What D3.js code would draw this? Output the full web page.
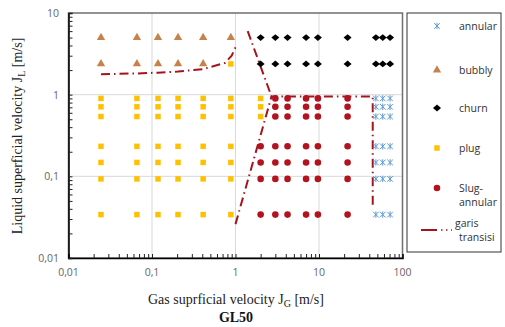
<!DOCTYPE html>
<html>
<head>
<meta charset="utf-8">
<script src="https://cdnjs.cloudflare.com/ajax/libs/d3/7.8.5/d3.min.js"></script>
<style>
  body { margin: 0; background: #fff; }
  svg { display: block; }
</style>
</head>
<body>
<div class="chart"></div>
<script>
// values, [Jg, Jl] in m/s
var bubbly = [
  [0.0245, 5], [0.066, 5], [0.118, 5], [0.205, 5], [0.41, 5], [0.88, 5],
  [0.0245, 2.38], [0.066, 2.38], [0.118, 2.38], [0.205, 2.38], [0.41, 2.38]
];
var plug = [
  [0.88, 2.38],
  [0.0245, 0.9], [0.066, 0.9], [0.118, 0.9], [0.205, 0.9], [0.41, 0.9], [0.88, 0.9], [2, 0.9],
  [0.0245, 0.71], [0.066, 0.71], [0.118, 0.71], [0.205, 0.71], [0.41, 0.71], [0.88, 0.71], [2, 0.71],
  [0.0245, 0.54], [0.066, 0.54], [0.118, 0.54], [0.205, 0.54], [0.41, 0.54], [0.88, 0.54], [2, 0.54],
  [0.0245, 0.233], [0.066, 0.233], [0.118, 0.233], [0.205, 0.233], [0.41, 0.233], [0.88, 0.233],
  [0.0245, 0.148], [0.066, 0.148], [0.118, 0.148], [0.205, 0.148], [0.41, 0.148], [0.88, 0.148],
  [0.0245, 0.093], [0.066, 0.093], [0.118, 0.093], [0.205, 0.093], [0.41, 0.093], [0.88, 0.093],
  [0.0245, 0.034], [0.066, 0.034], [0.118, 0.034], [0.205, 0.034], [0.41, 0.034], [0.88, 0.034]
];
var churn = [
  [2, 5], [3, 5], [4.2, 5], [7, 5], [9.7, 5], [22, 5], [48, 5], [58, 5], [71, 5],
  [2, 2.38], [3, 2.38], [4.2, 2.38], [7, 2.38], [9.7, 2.38], [22, 2.38], [48, 2.38], [58, 2.38], [71, 2.38]
];
var slugAnnular = [
  [3, 0.9], [4.2, 0.9], [7, 0.9], [9.7, 0.9], [22, 0.9],
  [3, 0.71], [4.2, 0.71], [7, 0.71], [9.7, 0.71], [22, 0.71],
  [3, 0.54], [4.2, 0.54], [7, 0.54], [9.7, 0.54], [22, 0.54],
  [2, 0.233], [3, 0.233], [4.2, 0.233], [7, 0.233], [9.7, 0.233], [22, 0.233],
  [2, 0.148], [3, 0.148], [4.2, 0.148], [7, 0.148], [9.7, 0.148], [22, 0.148],
  [2, 0.093], [3, 0.093], [4.2, 0.093], [7, 0.093], [9.7, 0.093], [22, 0.093],
  [2, 0.034], [3, 0.034], [4.2, 0.034], [7, 0.034], [9.7, 0.034], [22, 0.034]
];
var annular = [
  [48, 0.9], [58, 0.9], [71, 0.9],
  [48, 0.71], [58, 0.71], [71, 0.71],
  [48, 0.54], [58, 0.54], [71, 0.54],
  [48, 0.233], [58, 0.233], [71, 0.233],
  [48, 0.148], [58, 0.148], [71, 0.148],
  [48, 0.093], [58, 0.093], [71, 0.093],
  [48, 0.034], [58, 0.034], [71, 0.034]
];
// garis transisi (three separate pieces)
var transisiBubbly = [[0.0245, 1.78], [0.066, 1.82], [0.118, 1.86], [0.205, 1.92], [0.41, 2.05], [0.75, 2.45], [0.9, 3.0], [1.0, 3.8]];
var transisiChurn = [[1.4, 6.0], [2.7, 0.95]];
var transisiSlug = [[1.0, 0.026], [2.7, 0.95], [44, 0.95], [44, 0.04]];

var xTicks = [0.01, 0.1, 1, 10, 100];
var xTickLabels = ["0,01", "0,1", "1", "10", "100"];
var yTicks = [0.01, 0.1, 1, 10];
var yTickLabels = ["0,01", "0,1", "1", "10"];

var svg = d3.select(".chart").append("svg")
  .attr("width", 505)
  .attr("height", 327);

var xScale = d3.scaleLog().domain([0.01, 100]).range([68.5, 402.5]);
var yScale = d3.scaleLog().domain([0.01, 10]).range([258, 13]);

// grid lines on the decades
var grid = svg.append("g");
grid.selectAll("line.gx")
  .data(xTicks.slice(1, -1))
  .enter().append("line")
  .attr("x1", d => xScale(d)).attr("x2", d => xScale(d))
  .attr("y1", yScale(10)).attr("y2", yScale(0.01))
  .attr("stroke", "#d9d9d9").attr("stroke-width", 1);
grid.selectAll("line.gy")
  .data(yTicks.slice(1, -1))
  .enter().append("line")
  .attr("y1", d => yScale(d)).attr("y2", d => yScale(d))
  .attr("x1", xScale(0.01)).attr("x2", xScale(100))
  .attr("stroke", "#d9d9d9").attr("stroke-width", 1);

// plot frame
svg.append("rect")
  .attr("x", xScale(0.01)).attr("y", yScale(10))
  .attr("width", xScale(100) - xScale(0.01))
  .attr("height", yScale(0.01) - yScale(10))
  .attr("fill", "none").attr("stroke", "#6f6f6f").attr("stroke-width", 1.5);

// axes, ticks pointing inward
var xAxis = d3.axisTop(xScale).tickValues(d3.range(-2, 2).flatMap(e => d3.range(1, 10).map(m => m * Math.pow(10, e))).concat([100]))
  .tickSize(4).tickFormat("");
svg.append("g")
  .attr("transform", `translate(0, ${yScale(0.01)})`)
  .call(xAxis)
  .call(g => g.select(".domain").attr("stroke", "#000").attr("stroke-width", 1.5))
  .call(g => g.selectAll(".tick line").attr("stroke", "#222"));

var yAxis = d3.axisRight(yScale).tickValues(d3.range(-2, 1).flatMap(e => d3.range(1, 10).map(m => m * Math.pow(10, e))).concat([10]))
  .tickSize(4).tickFormat("");
svg.append("g")
  .attr("transform", `translate(${xScale(0.01)}, 0)`)
  .call(yAxis)
  .call(g => g.select(".domain").attr("stroke", "#000").attr("stroke-width", 1.5))
  .call(g => g.selectAll(".tick line").attr("stroke", "#222"));

// tick labels
svg.append("g").selectAll("text")
  .data(xTicks)
  .enter().append("text")
  .attr("x", d => xScale(d))
  .attr("y", 276)
  .attr("text-anchor", "middle")
  .attr("font-family", "Open Sans, sans-serif")
  .attr("font-size", 10.5)
  .attr("fill", "#666")
  .text((d, i) => xTickLabels[i]);

svg.append("g").selectAll("text")
  .data(yTicks)
  .enter().append("text")
  .attr("x", 59)
  .attr("y", d => yScale(d) + 4)
  .attr("text-anchor", "end")
  .attr("font-family", "Open Sans, sans-serif")
  .attr("font-size", 10.5)
  .attr("fill", "#666")
  .text((d, i) => yTickLabels[i]);

// transition lines
var line = d3.line()
  .x(d => xScale(d[0]))
  .y(d => yScale(d[1]));

svg.append("g").selectAll("path")
  .data([transisiBubbly, transisiChurn, transisiSlug])
  .enter().append("path")
  .attr("d", line)
  .attr("fill", "none")
  .attr("stroke", "#a3141f")
  .attr("stroke-width", 2)
  .attr("stroke-dasharray", "9,4,1.5,4");

// markers
var tri = d3.symbol().type(d3.symbolTriangle).size(30);
var square = d3.symbol().type(d3.symbolSquare).size(30);
var circle = d3.symbol().type(d3.symbolCircle).size(34);
var diamond = "M0,-3.4L4,0L0,3.4L-4,0Z";
var star = "M-2.8,-2.8L2.8,2.8M-2.8,2.8L2.8,-2.8M0,-3.2L0,3.2";

function drawPoints(data, path, fill, stroke) {
  svg.append("g").selectAll("path")
    .data(data)
    .enter().append("path")
    .attr("transform", d => `translate(${xScale(d[0])}, ${yScale(d[1])})`)
    .attr("d", path)
    .attr("fill", fill)
    .attr("stroke", stroke || "none")
    .attr("stroke-width", 1);
}

drawPoints(plug, square(), "#ffc000");
drawPoints(bubbly, tri(), "#c5834b");
drawPoints(churn, diamond, "#000");
drawPoints(slugAnnular, circle(), "#b3121f");
drawPoints(annular, star, "none", "#5b9bd5");

// legend
var legend = svg.append("g");
legend.append("rect")
  .attr("x", 407).attr("y", 13)
  .attr("width", 94).attr("height", 239)
  .attr("fill", "#fff").attr("stroke", "#333").attr("stroke-width", 1);

var legendItems = [
  { lines: ["annular"], y: 26, path: star, fill: "none", stroke: "#5b9bd5" },
  { lines: ["bubbly"], y: 70, path: tri(), fill: "#c5834b" },
  { lines: ["churn"], y: 108, path: diamond, fill: "#000" },
  { lines: ["plug"], y: 148, path: square(), fill: "#ffc000" },
  { lines: ["Slug-", "annular"], y: 188, path: circle(), fill: "#b3121f" }
];

legendItems.forEach(function(item) {
  legend.append("path")
    .attr("transform", `translate(437, ${item.y})`)
    .attr("d", item.path)
    .attr("fill", item.fill)
    .attr("stroke", item.stroke || "none");
  item.lines.forEach(function(s, i) {
    legend.append("text")
      .attr("x", 459).attr("y", item.y + 4 + i * 14)
      .attr("font-family", "Open Sans, sans-serif")
      .attr("font-size", 10.5)
      .attr("fill", "#333")
      .text(s);
  });
});

legend.append("line")
  .attr("x1", 421).attr("x2", 437).attr("y1", 230).attr("y2", 230)
  .attr("stroke", "#a3141f").attr("stroke-width", 2);
legend.append("line")
  .attr("x1", 441).attr("x2", 452).attr("y1", 230).attr("y2", 230)
  .attr("stroke", "#a3141f").attr("stroke-width", 1.5)
  .attr("stroke-dasharray", "1.5,3.5");
legend.append("text")
  .attr("x", 455).attr("y", 227)
  .attr("font-family", "Open Sans, sans-serif")
  .attr("font-size", 10.5)
  .attr("fill", "#333")
  .text("garis");
legend.append("text")
  .attr("x", 459).attr("y", 241)
  .attr("font-family", "Open Sans, sans-serif")
  .attr("font-size", 10.5)
  .attr("fill", "#333")
  .text("transisi");

// axis titles
var xt = svg.append("text")
  .attr("x", 236).attr("y", 304)
  .attr("text-anchor", "middle")
  .attr("font-family", "Liberation Serif, Times New Roman, serif")
  .attr("font-size", 14)
  .attr("fill", "#222");
xt.append("tspan").text("Gas suprficial velocity J");
xt.append("tspan").attr("font-size", 10).attr("dy", 3).text("G");
xt.append("tspan").attr("dy", -3).text(" [m/s]");

svg.append("text")
  .attr("x", 236).attr("y", 322)
  .attr("text-anchor", "middle")
  .attr("font-family", "Liberation Serif, Times New Roman, serif")
  .attr("font-size", 14)
  .attr("font-weight", "bold")
  .attr("fill", "#111")
  .text("GL50");

var yt = svg.append("text")
  .attr("transform", "translate(22, 136) rotate(-90)")
  .attr("text-anchor", "middle")
  .attr("font-family", "Liberation Serif, Times New Roman, serif")
  .attr("font-size", 14)
  .attr("fill", "#222");
yt.append("tspan").text("Liquid superficial velocity J");
yt.append("tspan").attr("font-size", 10).attr("dy", 3).text("L");
yt.append("tspan").attr("dy", -3).text(" [m/s]");
</script>
</body>
</html>
